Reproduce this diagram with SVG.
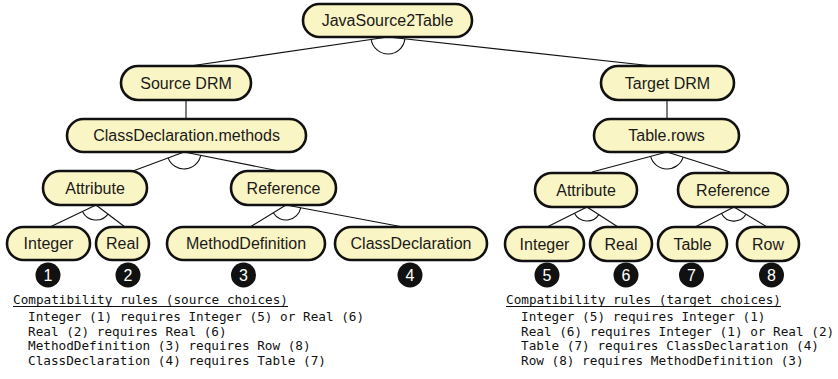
<svg xmlns="http://www.w3.org/2000/svg" width="838" height="379" viewBox="0 0 838 379">
<style>
.n rect{fill:#faf5c4;stroke:#111;stroke-width:2.6}
.n text{font-family:"Liberation Sans",Arial,sans-serif;font-size:16px;fill:#1a1a1a;text-anchor:middle}
.c line,.c path{stroke:#111;stroke-width:1.1;fill:none}
.b circle{fill:#111}
.b text{font-family:"Liberation Sans",Arial,sans-serif;font-size:16px;fill:#fff;text-anchor:middle}
.m{font-family:"DejaVu Sans Mono","Liberation Mono",monospace;font-size:12.7px;fill:#111}
</style>
<rect width="838" height="379" fill="#fff"/>
<g id="connectors" class="c">
<line x1="388" y1="37" x2="190" y2="66"/>
<line x1="388" y1="37" x2="653" y2="66"/>
<path d="M371.2,39.5 A17,17 0 0,0 404.9,38.9"/>
<line x1="186" y1="100" x2="186" y2="119"/>
<line x1="667" y1="100" x2="667" y2="119"/>
<line x1="184" y1="152" x2="133" y2="171"/>
<line x1="184" y1="152" x2="279" y2="171"/>
<path d="M168.1,157.9 A17,17 0 0,0 200.7,155.3"/>
<line x1="96" y1="205" x2="50" y2="227"/>
<line x1="96" y1="205" x2="125" y2="227"/>
<path d="M82.5,211.5 A15,15 0 0,0 108,214.1"/>
<line x1="286" y1="205" x2="250" y2="227"/>
<line x1="286" y1="205" x2="403" y2="227"/>
<path d="M273.2,212.8 A15,15 0 0,0 300.7,207.8"/>
<line x1="667" y1="152" x2="592" y2="172"/>
<line x1="667" y1="152" x2="730" y2="172"/>
<path d="M650.6,156.4 A17,17 0 0,0 683.2,157.1"/>
<line x1="587" y1="207" x2="547" y2="227"/>
<line x1="587" y1="207" x2="618" y2="227"/>
<path d="M574.5,213.3 A14,14 0 0,0 598.8,214.6"/>
<line x1="734" y1="207" x2="695" y2="227"/>
<line x1="734" y1="207" x2="767" y2="227"/>
<path d="M721.5,213.4 A14,14 0 0,0 746,214.3"/>
</g>
<g id="root" class="n"><rect x="303" y="4" width="169" height="33" rx="16.5"/><text x="387.5" y="26">JavaSource2Table</text></g>
<g id="source-drm" class="n"><rect x="121" y="66" width="130" height="34" rx="17"/><text x="186" y="88.5">Source DRM</text></g>
<g id="target-drm" class="n"><rect x="601" y="66" width="133" height="34" rx="17"/><text x="667.5" y="88.5">Target DRM</text></g>
<g id="classdecl-methods" class="n"><rect x="67" y="119" width="239" height="33" rx="16.5"/><text x="186.5" y="141">ClassDeclaration.methods</text></g>
<g id="table-rows" class="n"><rect x="594" y="119" width="145" height="33" rx="16.5"/><text x="666.5" y="141">Table.rows</text></g>
<g id="attribute-src" class="n"><rect x="43" y="171" width="104" height="34" rx="17"/><text x="95" y="193.5">Attribute</text></g>
<g id="reference-src" class="n"><rect x="231" y="171" width="105" height="34" rx="17"/><text x="283.5" y="193.5">Reference</text></g>
<g id="attribute-tgt" class="n"><rect x="535" y="173" width="102" height="34" rx="17"/><text x="586" y="195.5">Attribute</text></g>
<g id="reference-tgt" class="n"><rect x="678" y="173" width="110" height="34" rx="17"/><text x="733" y="195.5">Reference</text></g>
<g id="integer-src" class="n"><rect x="7" y="227" width="83" height="33" rx="16.5"/><text x="48.5" y="249">Integer</text></g>
<g id="real-src" class="n"><rect x="96" y="227" width="53" height="33" rx="16.5"/><text x="122.5" y="249">Real</text></g>
<g id="methoddef" class="n"><rect x="167" y="227" width="158" height="33" rx="16.5"/><text x="246" y="249">MethodDefinition</text></g>
<g id="classdecl" class="n"><rect x="335" y="227" width="152" height="33" rx="16.5"/><text x="411" y="249">ClassDeclaration</text></g>
<g id="integer-tgt" class="n"><rect x="505" y="227" width="79" height="34" rx="17"/><text x="544.5" y="249.5">Integer</text></g>
<g id="real-tgt" class="n"><rect x="590" y="227" width="62" height="34" rx="17"/><text x="621" y="249.5">Real</text></g>
<g id="table" class="n"><rect x="658" y="227" width="69" height="34" rx="17"/><text x="692.5" y="249.5">Table</text></g>
<g id="row" class="n"><rect x="737" y="227" width="62" height="34" rx="17"/><text x="768" y="249.5">Row</text></g>
<g id="badges" class="b">
<circle cx="48" cy="275" r="12.5"/><text x="48" y="280.8">1</text>
<circle cx="128" cy="275" r="12.5"/><text x="128" y="280.8">2</text>
<circle cx="243.5" cy="275" r="12.5"/><text x="243.5" y="280.8">3</text>
<circle cx="410" cy="275" r="12.5"/><text x="410" y="280.8">4</text>
<circle cx="547" cy="275" r="12.5"/><text x="547" y="280.8">5</text>
<circle cx="626" cy="275" r="12.5"/><text x="626" y="280.8">6</text>
<circle cx="691.5" cy="275" r="12.5"/><text x="691.5" y="280.8">7</text>
<circle cx="771.5" cy="275" r="12.5"/><text x="771.5" y="280.8">8</text>
</g>
<g id="rules-source" class="m">
<text x="13" y="304">Compatibility rules (source choices)</text>
<line x1="13" y1="306.5" x2="288" y2="306.5" stroke="#111" stroke-width="1"/>
<text x="28" y="321">Integer (1) requires Integer (5) or Real (6)</text>
<text x="28" y="335.5">Real (2) requires Real (6)</text>
<text x="28" y="350">MethodDefinition (3) requires Row (8)</text>
<text x="28" y="364.5">ClassDeclaration (4) requires Table (7)</text>
</g>
<g id="rules-target" class="m">
<text x="506" y="304">Compatibility rules (target choices)</text>
<line x1="506" y1="306.5" x2="781" y2="306.5" stroke="#111" stroke-width="1"/>
<text x="521" y="321">Integer (5) requires Integer (1)</text>
<text x="521" y="335.5">Real (6) requires Integer (1) or Real (2)</text>
<text x="521" y="350">Table (7) requires ClassDeclaration (4)</text>
<text x="521" y="364.5">Row (8) requires MethodDefinition (3)</text>
</g>
</svg>
